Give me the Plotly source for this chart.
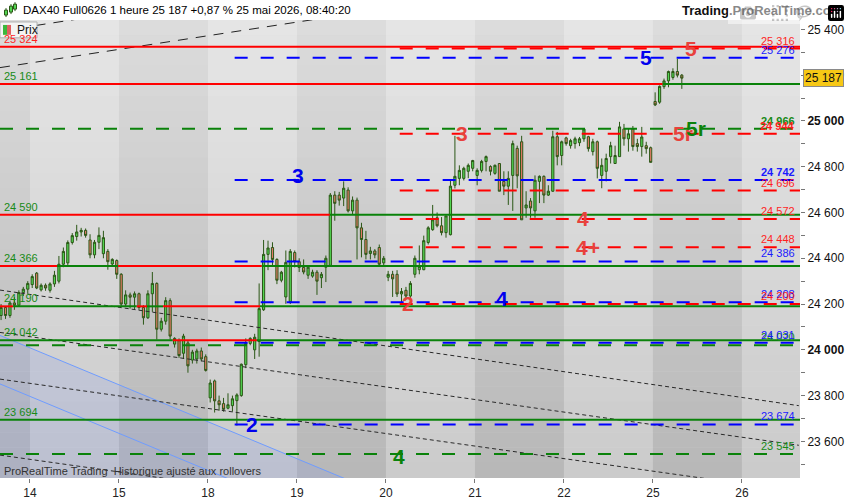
"""DAX40 Full0626 hourly chart with wave counts and support / resistance levels.

Hourly candles from the 13th to the 25th, horizontal levels (solid and dashed),
trend lines and wave labels, laid out like a ProRealTime screenshot.
"""

import plotly.graph_objects as go

# ---- Data --------------------------------------------------------------

DAY_LABELS = ["14", "15", "18", "19", "20", "21", "22", "25", "26"]
BARS_PER_DAY = 20
FIRST_BAR = -7            # last bars of the 13th sit left of the "14" tick

opens = [
    # 13th
    24150, 24185, 24150, 24205, 24195, 24250, 24265,
    # 14th
    24285, 24335, 24262, 24282, 24260, 24288, 24300, 24374, 24380, 24469,
    24495, 24515, 24522, 24480, 24415, 24470, 24420, 24430, 24375, 24390,
    # 15th
    24330, 24200, 24240, 24230, 24245, 24185, 24140, 24245, 24290, 24090,
    24125, 24215, 24025, 24040, 23985, 24030, 23955, 23960, 23995, 23970,
    # 18th
    23790, 23864, 23777, 23765, 23745, 23756, 23778, 23800, 23935, 24028,
    24000, 24036, 24175, 24417, 24447, 24395, 24304, 24231, 24210, 24425,
    # 19th
    24385, 24360, 24326, 24322, 24339, 24315, 24361, 24369, 24676, 24676,
    24663, 24698, 24607, 24654, 24533, 24482, 24421, 24432, 24447, 24380,
    # 20th
    24317, 24330, 24330, 24244, 24260, 24235, 24330, 24350, 24350, 24469,
    24525, 24577, 24542, 24512, 24503, 24719, 24749, 24749, 24780, 24793,
    # 21st
    24762, 24784, 24823, 24801, 24771, 24814, 24736, 24715, 24762, 24880,
    24909, 24620, 24650, 24607, 24736, 24758, 24676, 24693, 24931, 24849,
    # 22nd
    24926, 24892, 24901, 24905, 24922, 24931, 24866, 24909, 24762, 24780,
    24844, 24814, 24844, 24965, 24922, 24965, 24901, 24888, 24892, 24883,
    # 25th
    25085, 25082, 25150, 25175, 25190, 25216, 25200,
]
highs = [
    24200, 24190, 24215, 24230, 24260, 24275, 24300,
    24330, 24340, 24290, 24290, 24295, 24345, 24410, 24447, 24478, 24510,
    24546, 24533, 24530, 24505, 24480, 24535, 24520, 24440, 24400, 24395,
    24335, 24260, 24250, 24255, 24250, 24195, 24260, 24340, 24295, 24140,
    24230, 24225, 24055, 24050, 24070, 24040, 24000, 24005, 24010, 23980,
    23870, 23870, 23800, 23790, 23810, 23800, 23810, 23940, 24050, 24055,
    24070, 24290, 24480, 24477, 24470, 24400, 24345, 24434, 24440, 24434,
    24400, 24395, 24370, 24350, 24348, 24340, 24412, 24685, 24693, 24690,
    24736, 24710, 24670, 24665, 24555, 24520, 24450, 24440, 24460, 24410,
    24345, 24345, 24348, 24270, 24275, 24300, 24412, 24456, 24499, 24540,
    24633, 24600, 24580, 24585, 24740, 24935, 24806, 24800, 24814, 24830,
    24793, 24830, 24849, 24806, 24810, 24815, 24780, 24780, 24914, 24892,
    24935, 24693, 24663, 24762, 24762, 24762, 24719, 24957, 24952, 24914,
    24931, 24922, 24931, 24930, 24965, 24935, 24922, 24914, 24836, 24857,
    24909, 24892, 24996, 24987, 24965, 24978, 24922, 24974, 24909, 24888,
    25125, 25155, 25185, 25220, 25230, 25272, 25205,
]
lows = [
    24130, 24135, 24140, 24175, 24190, 24235, 24245,
    24270, 24265, 24255, 24258, 24250, 24275, 24290, 24361, 24370, 24460,
    24477, 24495, 24490, 24400, 24400, 24440, 24400, 24350, 24365, 24310,
    24190, 24190, 24180, 24175, 24175, 24110, 24135, 24166, 24045, 24080,
    24110, 24045, 24010, 23965, 23960, 23900, 23940, 23940, 23950, 23905,
    23770, 23726, 23734, 23730, 23740, 23730, 23669, 23795, 23920, 24020,
    23960, 23970, 24170, 24348, 24370, 24287, 24295, 24201, 24200, 24360,
    24340, 24330, 24310, 24315, 24240, 24270, 24296, 24365, 24564, 24630,
    24628, 24600, 24590, 24395, 24404, 24395, 24395, 24400, 24370, 24370,
    24300, 24231, 24231, 24207, 24220, 24225, 24315, 24330, 24348, 24460,
    24520, 24535, 24500, 24490, 24500, 24705, 24719, 24740, 24750, 24780,
    24719, 24775, 24780, 24762, 24765, 24693, 24676, 24633, 24607, 24706,
    24568, 24577, 24577, 24577, 24641, 24641, 24672, 24690, 24806, 24806,
    24892, 24879, 24879, 24890, 24909, 24866, 24849, 24749, 24706, 24736,
    24814, 24814, 24844, 24892, 24866, 24870, 24866, 24844, 24857, 24819,
    25065, 25075, 25140, 25147, 25180, 25190, 25140,
]
closes = [
    24185, 24150, 24205, 24195, 24250, 24265, 24290,
    24320, 24270, 24282, 24270, 24288, 24326, 24374, 24430, 24469, 24499,
    24515, 24522, 24500, 24415, 24470, 24500, 24490, 24385, 24395, 24330,
    24200, 24240, 24230, 24245, 24185, 24140, 24245, 24290, 24090, 24125,
    24215, 24060, 24050, 23975, 24060, 23930, 23990, 23995, 23960, 23910,
    23855, 23777, 23760, 23740, 23760, 23786, 23803, 23937, 24028, 24050,
    24055, 24180, 24417, 24445, 24395, 24304, 24339, 24382, 24430, 24385,
    24360, 24340, 24361, 24339, 24300, 24330, 24400, 24676, 24640, 24654,
    24706, 24607, 24654, 24533, 24482, 24417, 24432, 24415, 24374, 24400,
    24330, 24310, 24244, 24255, 24235, 24290, 24400, 24365, 24477, 24533,
    24568, 24542, 24512, 24585, 24715, 24758, 24784, 24793, 24806, 24827,
    24784, 24823, 24844, 24780, 24806, 24693, 24715, 24749, 24901, 24760,
    24568, 24633, 24620, 24741, 24758, 24676, 24693, 24931, 24844, 24909,
    24901, 24914, 24922, 24922, 24965, 24879, 24909, 24793, 24806, 24836,
    24892, 24849, 24974, 24922, 24944, 24888, 24888, 24930, 24879, 24819,
    25070, 25151, 25175, 25216, 25216, 25200, 25187,
]
LAST_PRICE = 25187

# solid levels: value, left label and colour changes along the line
SOLID_LEVELS = [25324, 25161, 24590, 24366, 24190, 24042, 23694]
SOLID_LABEL_COLORS = ["red", "green", "green", "green", "green", "green", "green"]
# (bar index where the segment ends, colour); None = right edge
SOLID_SEGMENTS = [
    [(None, "red")],
    [(141.7, "red"), (None, "green")],
    [(66.9, "red"), (None, "green")],
    [(5.6, "red"), (19.3, "green"), (51.6, "red"), (None, "green")],
    [(-4.3, "red"), (23.5, "green"), (25.8, "red"), (29.4, "green"),
     (51.2, "red"), (None, "green")],
    [(31.6, "green"), (50.5, "red"), (None, "green")],
    [(None, "green")],
]

# dashed levels with their right-hand labels
DASH_LEVELS = [24966, 24020, 23545,
               25276, 24742, 24386, 24208, 24031, 23674,
               25316, 24944, 24696, 24572, 24448, 24200]
DASH_COLORS = ["green"] * 3 + ["blue"] * 6 + ["red"] * 6
DASH_START = [None] * 3 + [45.5] * 6 + [82.6] * 6
DASH_BOLD = [24966, 24742, 24944]

# trend lines: (bar0, price0, bar1, price1)
TOP_TRENDS = [(-7.24, 25233, 87.1, 25514), (-7.24, 25393, 15.2, 25460)]
DOTTED_TRENDS = [(-7.24, 24261, 172.3, 23756), (-7.24, 24076, 172.3, 23583),
                 (-7.24, 23872, 172.3, 23380), (-7.24, 23540, 172.3, 23047)]
CHANNEL_UPPER = (-7.24, 24063, 74.9, 23400)
CHANNEL_LOWER = (-7.24, 23851, 60.0, 23308)

# wave count labels
WAVE_TEXT = ["5", "5", "3", "3", "5r", "5r", "4", "4+", "2", "4", "2", "4"]
WAVE_BAR = [137.9, 148.0, 96.7, 59.7, 146.2, 149.1, 123.8, 124.9, 84.5, 105.6, 49.5, 82.5]
WAVE_PRICE = [25276, 25316, 24944, 24761, 24944, 24966, 24572, 24448, 24201, 24225, 23674, 23535]
WAVE_COLORS = ["blue", "red", "red", "blue", "red", "green", "red", "red", "red", "blue", "blue", "green"]

Y_TICKS = [23600, 23800, 24000, 24200, 24400, 24600, 24800, 25000, 25200, 25400]

# ---- Styling ----------------------------------------------------------

X_RANGE = [-7.24, 172.56]
Y_RANGE = [23440, 25441]
LINE_COL = {"red": "#ff0000", "green": "#0a820a", "blue": "#0000ff"}
TEXT_COL = {"red": "#ff1f1f", "green": "#178a17", "blue": "#1a1aff"}
WAVE_COL = {"red": "#e8413c", "green": "#0a820a", "blue": "#0000ee"}
FONT = "Liberation Sans, Arial, sans-serif"
PLOT_W, PLOT_H, TOP = 800, 463, 20


def fmt(v):
    return f"{v:,}".replace(",", " ")


def px_x(p):
    return p / PLOT_W


def px_y(p):
    return 1 - (p - TOP) / PLOT_H


x = list(range(FIRST_BAR, FIRST_BAR + len(closes)))
day_starts = [-0.5 + BARS_PER_DAY * k for k in range(len(DAY_LABELS))]

fig = go.Figure()
fig.add_trace(go.Candlestick(
    x=x, open=opens, high=highs, low=lows, close=closes,
    increasing=dict(line=dict(color="#2b5716", width=1), fillcolor="#52d652"),
    decreasing=dict(line=dict(color="#2b5716", width=1), fillcolor="#e27a66"),
    whiskerwidth=0, hoverinfo="skip", showlegend=False,
))

shapes = []

# ---- Background: vertical gradient + alternating day bands -------------

n_strips = 30
step = (Y_RANGE[1] - Y_RANGE[0]) / n_strips
for k in range(n_strips):
    g = int(220 - 36 * k / (n_strips - 1))
    y1 = Y_RANGE[1] - k * step
    shapes.append(dict(type="rect", xref="paper", yref="y", x0=0, x1=1,
                       y0=y1 - step - 1, y1=y1, fillcolor=f"rgb({g},{g},{g})",
                       line_width=0, layer="below"))
for k in range(-1, len(DAY_LABELS)):
    if k % 2 == 0:
        x0 = -0.5 + BARS_PER_DAY * k
        shapes.append(dict(type="rect", xref="x", yref="paper", x0=x0,
                           x1=x0 + BARS_PER_DAY, y0=0, y1=1,
                           fillcolor="rgba(255,255,255,0.28)", line_width=0,
                           layer="below"))

# blue channel
u, lo = CHANNEL_UPPER, CHANNEL_LOWER
shapes.append(dict(type="path", xref="x", yref="y", layer="below",
                   path=f"M {u[0]},{u[1]} L {u[2]},{u[3]} L {u[0]},{u[3]} Z",
                   fillcolor="rgba(120,145,235,0.17)", line_width=0))
for c in (CHANNEL_UPPER, CHANNEL_LOWER):
    shapes.append(dict(type="line", xref="x", yref="y", layer="below",
                       x0=c[0], y0=c[1], x1=c[2], y1=c[3],
                       line=dict(color="#6f9cff", width=1)))

# ---- Trend lines ------------------------------------------------------

for t in TOP_TRENDS:
    shapes.append(dict(type="line", xref="x", yref="y", x0=t[0], y0=t[1],
                       x1=t[2], y1=t[3],
                       line=dict(color="#222", width=1, dash="10px,8px")))
for t in DOTTED_TRENDS:
    shapes.append(dict(type="line", xref="x", yref="y", x0=t[0], y0=t[1],
                       x1=t[2], y1=t[3],
                       line=dict(color="#2a2a2a", width=1, dash="4px,3px")))

# ---- Horizontal levels --------------------------------------------------

for lvl, start, col in zip(DASH_LEVELS, DASH_START, DASH_COLORS):
    shapes.append(dict(type="line", xref="x", yref="y",
                       x0=X_RANGE[0] if start is None else start, x1=X_RANGE[1],
                       y0=lvl, y1=lvl,
                       line=dict(color=LINE_COL[col], width=2, dash="13px,13px")))

for lvl, segs in zip(SOLID_LEVELS, SOLID_SEGMENTS):
    x0 = X_RANGE[0]
    for end, col in segs:
        x1 = X_RANGE[1] if end is None else end
        shapes.append(dict(type="line", xref="x", yref="y", x0=x0, x1=x1,
                           y0=lvl, y1=lvl,
                           line=dict(color=LINE_COL[col], width=2)))
        x0 = x1

# ---- Header decorations --------------------------------------------------

# "Prix" legend box
shapes.append(dict(type="rect", xref="paper", yref="paper", x0=px_x(0), x1=px_x(37),
                   y0=px_y(38), y1=px_y(22), fillcolor="#f4f4f4",
                   line=dict(color="#b0b0b0", width=1)))
shapes.append(dict(type="rect", xref="paper", yref="paper", x0=px_x(3), x1=px_x(7),
                   y0=px_y(35), y1=px_y(25), fillcolor="#3cb83c", line_width=0))
shapes.append(dict(type="rect", xref="paper", yref="paper", x0=px_x(7), x1=px_x(11),
                   y0=px_y(35), y1=px_y(25), fillcolor="#e06060", line_width=0))
# small candle icon before the title
for cx, b0, b1, w0, w1 in [(6, 15, 10, 17, 8), (11, 12, 6, 14, 4), (15, 9, 4, 11, 2)]:
    shapes.append(dict(type="line", xref="paper", yref="paper", x0=px_x(cx), x1=px_x(cx),
                       y0=px_y(w0), y1=px_y(w1), line=dict(color="#2b5716", width=1)))
    shapes.append(dict(type="rect", xref="paper", yref="paper", x0=px_x(cx - 1.5),
                       x1=px_x(cx + 1.5), y0=px_y(b0), y1=px_y(b1),
                       fillcolor="#52d652", line=dict(color="#2b5716", width=1)))

annotations = []

for lvl, col in zip(SOLID_LEVELS, SOLID_LABEL_COLORS):
    annotations.append(dict(xref="paper", yref="y", x=px_x(2), y=lvl, text=fmt(lvl),
                            xanchor="left", yanchor="bottom", showarrow=False,
                            font=dict(size=11, color=TEXT_COL[col])))
for lvl, col in zip(DASH_LEVELS, DASH_COLORS):
    label = f"<b>{fmt(lvl)}</b>" if lvl in DASH_BOLD else fmt(lvl)
    annotations.append(dict(xref="paper", yref="y", x=px_x(797), y=lvl, text=label,
                            xanchor="right", yanchor="bottom", showarrow=False,
                            font=dict(size=11, color=TEXT_COL[col])))
for txt, bx, py, col in zip(WAVE_TEXT, WAVE_BAR, WAVE_PRICE, WAVE_COLORS):
    annotations.append(dict(xref="x", yref="y", x=bx, y=py, text=f"<b>{txt}</b>",
                            showarrow=False, xanchor="center", yanchor="middle",
                            font=dict(size=21, color=WAVE_COL[col])))

# last price box on the axis
annotations.append(dict(xref="paper", yref="y", x=1, xshift=3, y=LAST_PRICE,
                        text=fmt(LAST_PRICE), xanchor="left", yanchor="middle",
                        showarrow=False, bgcolor="#f7c815", bordercolor="#8a8a8a",
                        borderwidth=1, borderpad=1, font=dict(size=12, color="#111")))

annotations += [
    dict(xref="paper", yref="paper", x=px_x(21), y=px_y(10),
         text="DAX40 Full0626 1 heure 25 187 +0,87 % 25 mai 2026, 08:40:20",
         xanchor="left", yanchor="middle", showarrow=False,
         font=dict(size=11.5, color="#000")),
    dict(xref="paper", yref="paper", x=px_x(844), y=px_y(10),
         text="<b>Trading.ProRealTime.com</b>", xanchor="right", yanchor="middle",
         showarrow=False, font=dict(size=13, color="#111")),
    dict(xref="paper", yref="paper", x=px_x(15), y=px_y(30), text="Prix",
         xanchor="left", yanchor="middle", showarrow=False,
         font=dict(size=12, color="#111")),
    dict(xref="paper", yref="paper", x=px_x(2), y=px_y(476),
         text="ProRealTime Trading  Historique ajusté aux rollovers",
         xanchor="left", yanchor="middle", showarrow=False,
         font=dict(size=11, color="#333")),
]

y_vals = list(range(23500, 25401, 100))
y_text = []
for v in y_vals:
    if v in Y_TICKS:
        y_text.append(f"<b>{fmt(v)}</b>" if v % 1000 == 0 else fmt(v))
    else:
        y_text.append("")

fig.update_layout(
    width=850, height=500,
    margin=dict(l=0, r=50, t=TOP, b=17),
    paper_bgcolor="white", plot_bgcolor="#d4d4d4",
    font=dict(family=FONT, size=12, color="#111"),
    showlegend=False,
    shapes=shapes, annotations=annotations,
    xaxis=dict(range=X_RANGE, tickvals=day_starts, ticktext=DAY_LABELS,
               ticks="outside", ticklen=4, tickcolor="#777", showgrid=False,
               zeroline=False, showline=False, rangeslider=dict(visible=False),
               tickfont=dict(size=12, color="#222"), fixedrange=True),
    yaxis=dict(range=Y_RANGE, side="right", tickvals=y_vals, ticktext=y_text,
               ticks="outside", ticklen=4, tickcolor="#777", showgrid=False,
               zeroline=False, showline=False,
               tickfont=dict(size=12, color="#111"), fixedrange=True),
)

# the page's default body margin would push the 850x500 figure off-window
fig.write_html("out.html", post_script="document.body.style.margin = '0px';")
